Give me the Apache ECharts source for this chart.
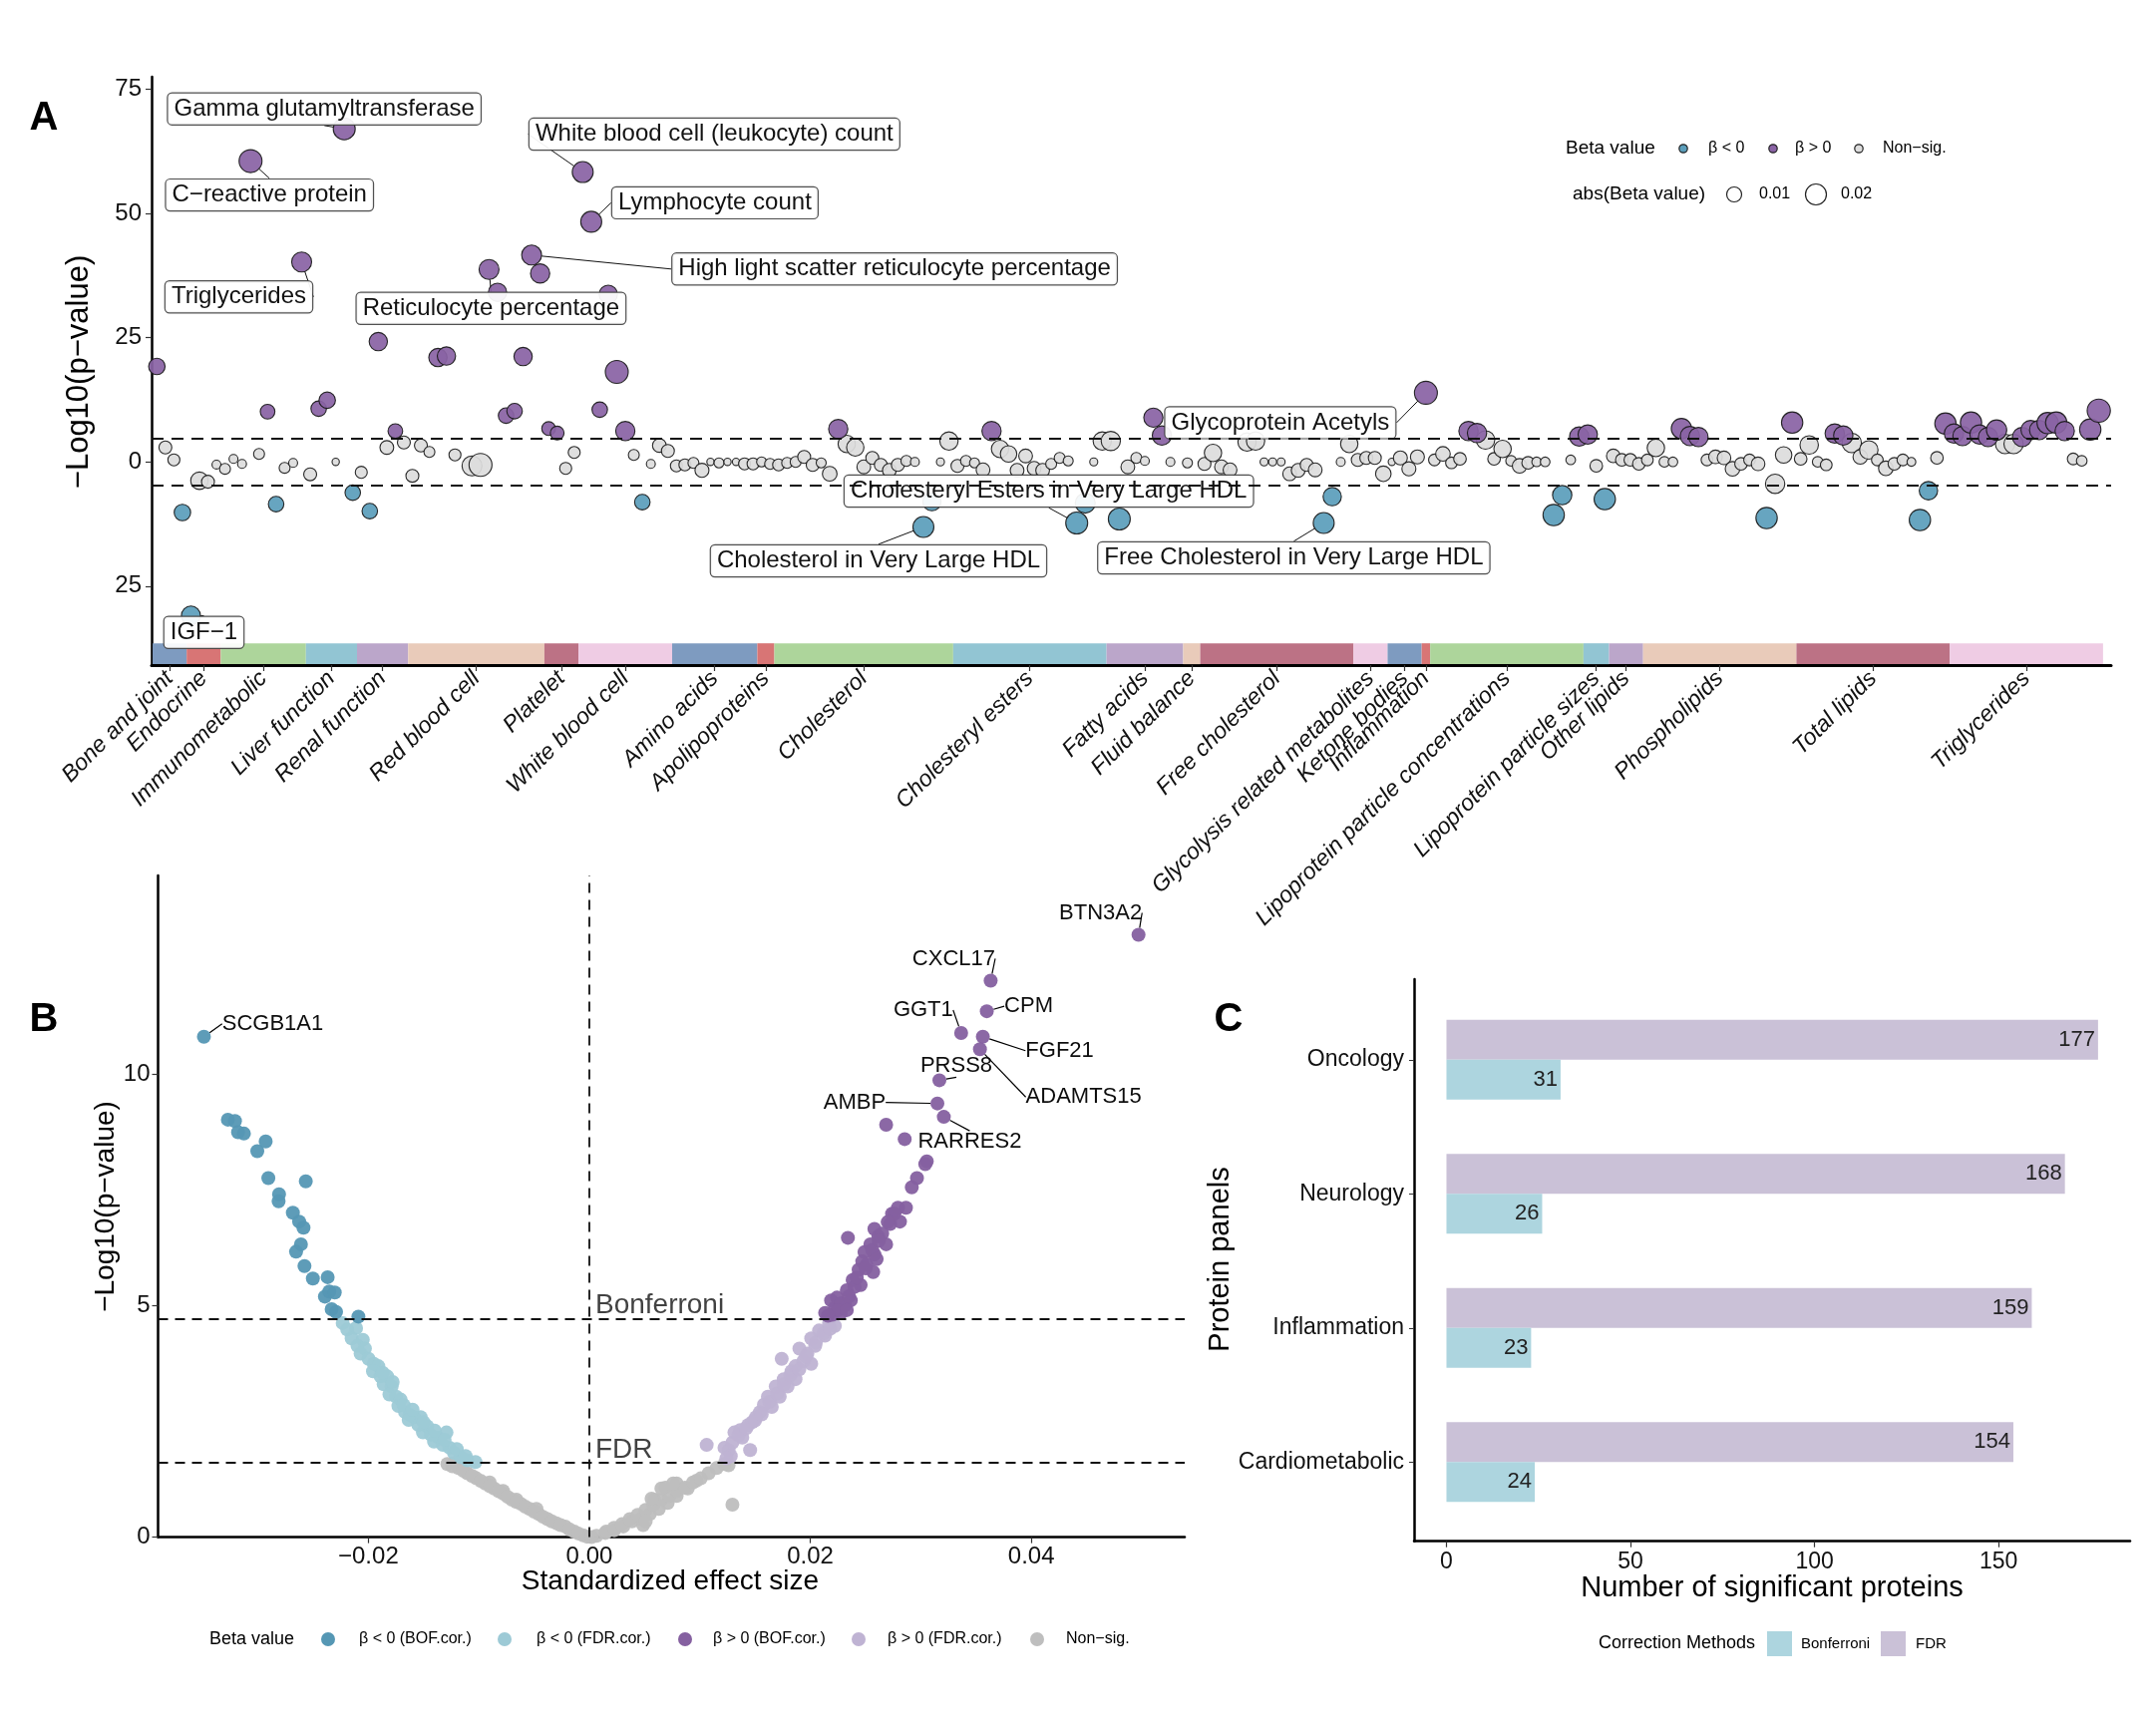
<!DOCTYPE html>
<html><head><meta charset="utf-8">
<script src="https://cdn.jsdelivr.net/npm/echarts@6/dist/echarts.min.js"></script>
<style>html,body{margin:0;padding:0;background:#fff}#c{width:2162px;height:1731px}</style>
</head><body><div id="c"></div>
<script>
// ================= DATA =================
// ---- Panel A: phenome-wide associations ----
const catNames = ['Bone and joint','Endocrine','Immunometabolic','Liver function','Renal function','Red blood cell','Platelet','White blood cell','Amino acids','Apolipoproteins','Cholesterol','Cholesteryl esters','Fatty acids','Fluid balance','Free cholesterol','Glycolysis related metabolites','Ketone bodies','Inflammation','Lipoprotein particle concentrations','Lipoprotein particle sizes','Other lipids','Phospholipids','Total lipids','Triglycerides'];
const catSizes = [4,4,10,6,6,16,4,11,10,2,21,18,9,2,18,4,4,1,18,3,4,18,18,18];
const traitPos = [1,2,3,4,5,6,7,8,9,10,11,12,13,14,15,16,17,18,19,20,21,22,23,24,25,26,27,28,29,30,31,32,33,34,35,36,
38,39,40,41,42,43,44,45,46,47,48,49,50,51,52,53,54,55,56,57,58,59,60,61,62,63,64,65,66,67,68,69,70,71,72,73,74,75,76,77,
78,79,80,81,82,83,84,85,86,87,88,89,90,91,92,93,94,95,96,97,98,99,100,101,102,103,104,105,106,107,108,109,110,111,112,113,114,115,116,117,
118,119,120,122,124,125,126,127,
129,130,131,132,133,134,135,136,137,138,139,140,141,142,143,144,145,146,147,148,149,150,151,152,153,154,155,156,157,158,
159,160,161,162,163,164,165,166,167,168,169,170,171,172,173,174,175,176,177,178,179,180,181,182,183,184,185,186,187,188,
189,190,191,192,193,194,195,196,197,198,199,200,201,202,203,204,205,206,207,208,209,210,211,212,213,214,215,216,217,218,
219,220,221,222,223,224,225,226,227,228,229];
const traitLogP = [19.2,2.9,0.4,-10.2,-30.9,-3.8,-4.0,-0.55,-1.4,0.6, -0.4,60.5,1.6,10.1,-8.5,-1.2,-0.2,40.2,-2.5,10.7,
12.4,0,67.0,-6.2,-2.1,-9.9,24.2,2.9,6.2,3.9, -2.8,3.3,2.0,21.0,21.3,1.4,
-0.8,-0.6,38.7,34.1,9.3,10.2,21.2,41.6,37.9,6.7, 5.8,-1.3,1.9,58.3,48.3,10.5,33.7,18.1,6.2,1.4,
-8.1,-0.4,3.3,2.2,-0.8,-0.6,-0.2,-1.7,0,-0.2, 0,0,-0.4,-0.4,0,-0.4,-0.6,-0.2,0,1.0,
-0.6,-0.2,-2.4,6.6,3.6,2.9,-1.0,0.8,-0.6,-1.7, -0.6,0.2,0,-13.1,-8.0,0,4.2,-0.8,0.2,-0.2,
-1.6,6.2,2.6,1.6,-1.7,1.2,-1.3,-1.7,-0.4,0.8, 0.2,-12.3,-8.3,0,4.2,4.2,-11.5,-1.0,0.8,0.2,
8.9,5.3,0,-0.2,-0.4,1.8,-1.0,-1.6,
4.0,4.2,0,0,0,-2.4,-1.7,-0.6,-1.6,-12.3, -7.0,0,3.6,0.4,0.8,0.8,-2.4,0,0.8,-1.4,
1.0,13.9,0.4,1.6,-0.2,0.6,6.2,5.8,4.4,0.6, 2.6,0.2,-0.8,-0.2,0,0,-10.7,-6.7,0.4,5.1,
5.5,-0.8,-7.5,1.2,0.4,0.4,-0.4,0.4,2.8,0, 0,6.7,5.2,5.0,0.4,1.0,0.8,-1.4,-0.4,0.4,
-0.4,-11.3,-4.4,1.4,7.9,0.6,3.4,0,-0.6,5.7, 5.3,3.8,1.0,2.4,0.4,-1.3,-0.4,0.4,0,-11.7,
-5.8,0.8,7.7,5.7,5.2,7.9,5.5,5.0,6.4,3.6, 3.6,5.0,6.4,6.4,7.8,7.9,6.2,0.6,0.2,6.5,10.3];
const traitBeta = [.0122,.0073,.0063,.0122,.0163,.0137,.0074,.0034,.0052,.0034, .0034,.0241,.0052,.0096,.0108,.0052,.0034,.0181,.0074,.0108,
.0122,.0022,.0220,.0108,.0063,.0108,.0152,.0084,.0096,.0074, .0074,.0074,.0052,.0152,.0152,.0063,
.0181,.0241,.0181,.0152,.0108,.0108,.0152,.0181,.0168,.0084, .0084,.0063,.0063,.0200,.0200,.0108,.0152,.0241,.0168,.0052,
.0108,.0034,.0084,.0074,.0063,.0063,.0052,.0087,.0022,.0043, .0022,.0022,.0063,.0063,.0043,.0052,.0063,.0052,.0052,.0074,
.0074,.0043,.0096,.0168,.0136,.0136,.0084,.0074,.0074,.0084, .0074,.0052,.0034,.0200,.0152,.0027,.0152,.0074,.0052,.0043,
.0084,.0168,.0136,.0122,.0084,.0084,.0084,.0084,.0052,.0052, .0043,.0220,.0181,.0027,.0152,.0168,.0220,.0084,.0052,.0034,
.0168,.0168,.0034,.0043,.0074,.0136,.0084,.0084,
.0152,.0152,.0027,.0027,.0027,.0084,.0084,.0074,.0084,.0200, .0152,.0034,.0136,.0074,.0074,.0074,.0108,.0022,.0087,.0087,
.0087,.0241,.0060,.0095,.0060,.0070,.0170,.0170,.0154,.0070, .0137,.0049,.0095,.0070,.0040,.0040,.0208,.0170,.0040,.0170,
.0170,.0070,.0208,.0082,.0070,.0070,.0070,.0060,.0137,.0049, .0040,.0188,.0170,.0170,.0060,.0082,.0082,.0095,.0070,.0060,
.0082,.0208,.0170,.0122,.0208,.0070,.0154,.0049,.0060,.0170, .0170,.0170,.0095,.0154,.0060,.0095,.0070,.0060,.0033,.0208,
.0154,.0070,.0208,.0170,.0170,.0208,.0170,.0170,.0188,.0170, .0170,.0170,.0170,.0170,.0208,.0208,.0170,.0060,.0049,.0208,.0247];
const labelTraits = [23,12,18,40,51,52,45,5,91,109,138,150];
const labelTexts = ['Gamma glutamyltransferase','C\u2212reactive protein','Triglycerides','Reticulocyte percentage','White blood cell (leukocyte) count','Lymphocyte count','High light scatter reticulocyte percentage','IGF\u22121','Cholesterol in Very Large HDL','Cholesteryl Esters in Very Large HDL','Free Cholesterol in Very Large HDL','Glycoprotein Acetyls'];
const thrA = 4.7;
const yTicksA = [-25,0,25,50,75];

// ---- Panel B: volcano ----
const namedProtein = ['SCGB1A1','BTN3A2','CXCL17','CPM','GGT1','FGF21','ADAMTS15','PRSS8','AMBP','RARRES2'];
const namedEffect = [-0.03488,0.04970,0.03632,0.03597,0.03365,0.03561,0.03535,0.03168,0.03150,0.03208];
const namedLogP = [10.80,13.00,12.01,11.35,10.88,10.80,10.53,9.86,9.36,9.07];
const negBOF = [[-0.03271,9.01],[-0.03207,8.98],[-0.03179,8.74],[-0.03126,8.71],[-0.03005,8.33],[-0.02929,8.54],[-0.02905,7.75],[-0.02808,7.40],[-0.02812,7.25],[-0.02566,7.68],[-0.02683,7.00],[-0.02626,6.81],[-0.02587,6.68],[-0.02610,6.32],[-0.02654,6.16],[-0.02578,5.85],[-0.02502,5.58],[-0.02368,5.61],[-0.02393,5.19],[-0.02353,5.30],[-0.02304,5.28],[-0.02332,4.92],[-0.02292,4.86],[-0.02090,4.76]];
const negFDR = [[-0.02232,4.62],[-0.02191,4.48],[-0.02111,4.51],[-0.02151,4.29],[-0.02050,4.26],[-0.02098,4.13],[-0.02031,4.07],[-0.02070,3.96],[-0.01998,3.85],[-0.01950,3.74],[-0.01910,3.69],[-0.01958,3.58],[-0.01889,3.47],[-0.01829,3.47],[-0.01861,3.30],[-0.01789,3.25],[-0.01809,3.08],[-0.01748,3.03],[-0.01708,2.97],[-0.01728,2.83],[-0.01668,2.70],[-0.01627,2.64],[-0.01587,2.59],[-0.01527,2.59],[-0.01635,2.53],[-0.01547,2.42],[-0.01467,2.39],[-0.01506,2.26],[-0.01434,2.21],[-0.01366,2.15],[-0.01293,2.26],[-0.01406,2.06],[-0.01325,1.99],[-0.01265,1.93],[-0.01225,1.82],[-0.01164,1.73],[-0.01104,1.66],[-0.01031,1.62],[-0.0187,3.55],[-0.0178,3.35],[-0.0168,2.85],[-0.0160,2.75],[-0.0150,2.48],[-0.0140,2.30],[-0.0131,2.10],[-0.0120,1.90],[-0.0112,1.75]];
const posBOF = [[0.02686,8.90],[0.02854,8.59],[0.03054,8.11],[0.03040,8.05],[0.02965,7.75],[0.02918,7.55],[0.02865,7.11],[0.02793,7.11],[0.02740,6.98],[0.02811,6.81],[0.02722,6.76],[0.02340,6.46],[0.02580,6.65],[0.02543,6.32],[0.02686,6.32],[0.02580,6.10],[0.02508,5.88],[0.02569,5.72],[0.02437,5.77],[0.02383,5.55],[0.02455,5.44],[0.02330,5.33],[0.02366,5.11],[0.02241,5.17],[0.02188,5.11],[0.02134,4.84],[0.02276,4.84],[0.02223,4.95],[0.02312,5.00],[0.02490,6.15],[0.02615,6.49],[0.02760,6.98],[0.02650,6.55],[0.02470,5.95],[0.02400,5.40],[0.02280,5.05],[0.02200,4.80],[0.02250,4.90],[0.02350,5.20],[0.02420,5.60],[0.02500,5.80],[0.02560,6.20],[0.02620,6.40],[0.02700,6.80],[0.02600,6.00],[0.02330,4.90],[0.02160,4.78]];
const posFDR = [[0.01260,1.88],[0.01223,1.93],[0.01295,2.04],[0.01313,2.26],[0.01384,2.15],[0.01366,2.31],[0.01437,2.42],[0.01473,2.48],[0.01455,1.88],[0.01062,1.99],[0.01509,2.59],[0.01544,2.70],[0.01580,2.86],[0.01651,2.81],[0.01616,3.03],[0.01723,3.03],[0.01687,3.25],[0.01794,3.25],[0.01759,3.41],[0.01866,3.41],[0.01830,3.58],[0.01866,3.69],[0.02008,3.74],[0.01937,3.80],[0.01741,3.85],[0.01973,3.96],[0.01901,4.07],[0.02044,4.13],[0.02133,4.35],[0.02008,4.29],[0.02079,4.46],[0.02169,4.62],[0.02222,4.56],[0.0135,2.20],[0.0142,2.35],[0.0150,2.52],[0.0156,2.65],[0.0163,2.92],[0.0170,3.10],[0.0176,3.30],[0.0182,3.50],[0.0190,3.62],[0.0196,3.90],[0.0205,4.20],[0.0212,4.40],[0.0218,4.50],[0.0128,1.75],[0.0124,1.70]];
const nonSig = [[-0.01285,1.58],[-0.01225,1.60],[-0.01184,1.49],[-0.01104,1.38],[-0.01023,1.27],[-0.00942,1.16],[-0.00862,1.05],[-0.00781,0.94],[-0.00700,0.81],[-0.00620,0.72],[-0.00540,0.61],[-0.00459,0.50],[-0.00378,0.39],[-0.00298,0.30],[-0.00218,0.23],[-0.00136,0.12],[-0.00056,0.04],[-0.00781,1.00],[-0.00479,0.61],[-0.00902,1.18],[-0.00660,0.81],
[-0.0124,1.53],[-0.0114,1.43],[-0.0106,1.32],[-0.0098,1.21],[-0.0090,1.10],[-0.0082,0.99],[-0.0074,0.87],[-0.0066,0.76],[-0.0058,0.66],[-0.0050,0.55],[-0.0042,0.44],[-0.0034,0.34],[-0.0026,0.26],[-0.0018,0.17],[-0.0010,0.08],[-0.0002,0.01],
[0.00065,0.03],[0.00145,0.09],[0.00226,0.15],[0.00307,0.23],[0.00387,0.34],[0.00487,0.26],[0.00468,0.39],[0.00548,0.50],[0.00588,0.81],[0.00689,1.07],[0.0079,1.16],[0.00629,0.61],[0.00709,0.74],[0.0079,0.89],[0.00891,1.05],[0.00971,1.22],
[0.00153,0.12],[0.00224,0.20],[0.00295,0.28],[0.00367,0.39],[0.00438,0.48],[0.0051,0.59],[0.00581,0.70],[0.00652,0.81],[0.00724,0.89],[0.00795,1.00],[0.00866,1.07],[0.00938,1.18],[0.01009,1.27],[0.01080,1.38],[0.01152,1.49],[0.01223,1.58],[0.01295,0.70],[0.0051,0.34],[0.00563,0.83],[0.00652,1.05],[0.00759,1.16],[0.0126,1.55],[0.0002,0.0]];
const thrBonf = 4.71, thrFDR = 1.605;
const xTicksB = [-0.02,0,0.02,0.04];
const yTicksB = [0,5,10];

// ---- Panel C: counts ----
const panels = ['Oncology','Neurology','Inflammation','Cardiometabolic'];
const fdrCounts = [177,168,159,154];
const bonfCounts = [31,26,23,24];
const xTicksC = [0,50,100,150];

// ================= STYLE / LAYOUT =================
const FF = "'Liberation Sans', Arial, Helvetica, sans-serif";
const catColors = ['#7E9BC0','#D87575','#ADD59B','#92C5D3','#BBA6CA','#E9CBBA','#BC7285','#EFCCE4'];
const colA = {neg:'#5B9EBB', pos:'#8A63A5', ns:'#DDDDDD'};
const colB = {negBOF:'#5597B4', negFDR:'#9DCAD6', posBOF:'#8560A0', posFDR:'#BFB3D3', ns:'#BEBEBE'};
const colC = {fdr:'#CAC1D7', bonf:'#ADD5DF'};
const labelOffsetA = {23:[-20,-20],12:[19,34],18:[-63,35],40:[2,39],51:[132,-38],52:[124,-19],45:[364,14],5:[13,17],91:[-45,34],109:[-28,-32],138:[-30,35],150:[-146,30]};
const labelOffsetB = {SCGB1A1:[69,-13],BTN3A2:[-38,-22],CXCL17:[-37,-22],CPM:[42,-5],GGT1:[-38,-23],FGF21:[77,14],PRSS8:[17,-14],ADAMTS15:[104,48],AMBP:[-83,-1],RARRES2:[26,25]};
const catBarY = [-40.7,-36.5];
const rangeXC = [-8.8,185.7];

// ================= BUILD =================
const chart = echarts.init(document.getElementById('c'), null, {renderer:'canvas', width:2162, height:1731});

const catBounds = []; let cum = 0;
catSizes.forEach(s => { catBounds.push([cum + 0.5, cum + s + 0.5]); cum += s; });
const catMids = catBounds.map(b => (b[0] + b[1]) / 2);

const A = {neg:[], pos:[], ns:[]};
traitPos.forEach((t, i) => {
  const lp = traitLogP[i], b = traitBeta[i];
  const li = labelTraits.indexOf(t);
  const item = {value:[t, lp, b], name: li >= 0 ? labelTexts[li] : ''};
  if (li >= 0) item.label = {show:true};
  if (lp > thrA) A.pos.push(item); else if (lp < -thrA) A.neg.push(item); else A.ns.push(item);
});

function centerOf(p){ return [p.rect.x + p.rect.width/2, p.rect.y + p.rect.height/2]; }
function layoutA(arr){ return function(p){ const it = arr[p.dataIndex]; const off = it && labelOffsetA[it.value[0]]; if (!off) return {}; const c = centerOf(p); return {x:c[0]+off[0], y:c[1]+off[1], align:'center', verticalAlign:'middle'}; }; }
function layoutB(arr){ return function(p){ const it = arr[p.dataIndex]; const off = it && labelOffsetB[it.name]; if (!off) return {}; const c = centerOf(p); return {x:c[0]+off[0], y:c[1]+off[1], align:'center', verticalAlign:'middle'}; }; }

const labelStyleA = {show:false, formatter:'{b}', fontSize:24, fontFamily:FF, color:'#000', backgroundColor:'#fff', borderColor:'#444', borderWidth:1.2, borderRadius:4, padding:[4,6,3,6]};
function seriesA(name, arr, color, extra){
  return Object.assign({type:'scatter', name, xAxisIndex:0, yAxisIndex:0, data:arr,
    symbolSize: v => 0.5 + 145*Math.sqrt(v[2]),
    itemStyle:{color, borderColor:'#1a1a1a', borderWidth:1.1, opacity:0.93},
    label:labelStyleA, labelLine:{show:true, lineStyle:{color:'#111', width:1}},
    labelLayout: layoutA(arr), emphasis:{disabled:true}}, extra || {});
}

function itemsB(pts){ return pts.map(p => ({value:p, name:''})); }
const bNegBOF = itemsB(negBOF), bPosBOF = itemsB(posBOF);
namedProtein.forEach((n, i) => {
  const it = {value:[namedEffect[i], namedLogP[i]], name:n, label:{show:true}};
  (namedEffect[i] < 0 ? bNegBOF : bPosBOF).push(it);
});
const labelStyleB = {show:false, formatter:'{b}', fontSize:22, fontFamily:FF, color:'#000'};
function seriesB(name, arr, color){
  return {type:'scatter', name, xAxisIndex:1, yAxisIndex:1, data:arr, symbolSize:14,
    itemStyle:{color, opacity:0.95}, label:labelStyleB,
    labelLine:{show:true, lineStyle:{color:'#000', width:1.2}}, labelLayout: layoutB(arr), emphasis:{disabled:true}};
}

const axisLineBlack = w => ({show:true, onZero:false, lineStyle:{color:'#000', width:w}});
const tickStyle = {show:true, length:6, lineStyle:{color:'#333', width:1.2}};

function T(x, y, text, size, o){
  o = o || {};
  return {type:'text', x, y, rotation:o.rotation || 0, silent:true,
    style:{text, fontSize:size, fontFamily:FF, fontWeight:o.fontWeight || 'normal', fill:'#000', align:o.align || 'center', verticalAlign:'middle'}};
}
function C(cx, cy, r, fill, stroke){ return {type:'circle', silent:true, shape:{cx, cy, r}, style:{fill, stroke:stroke || null, lineWidth:stroke ? 1.2 : 0}}; }
function R(x, y, w, h, fill){ return {type:'rect', silent:true, shape:{x, y, width:w, height:h}, style:{fill}}; }

const graphics = [
  T(44,119,'A',40,{fontWeight:'bold'}), T(44,1023,'B',40,{fontWeight:'bold'}), T(1232,1023,'C',40,{fontWeight:'bold'}),
  T(79,373,'\u2212Log10(p\u2212value)',31,{rotation:Math.PI/2}),
  T(106,1210,'\u2212Log10(p\u2212value)',28,{rotation:Math.PI/2}),
  T(672,1586,'Standardized effect size',28),
  T(1224,1263,'Protein panels',29,{rotation:Math.PI/2}),
  T(1777,1593,'Number of significant proteins',29),
  T(1570,149,'Beta value',19,{align:'left'}),
  C(1688,149,4.2,colA.neg,'#222'), T(1713,149,'\u03b2 < 0',16,{align:'left'}),
  C(1778,149,4.2,colA.pos,'#222'), T(1800,149,'\u03b2 > 0',16,{align:'left'}),
  C(1864,149,4.2,colA.ns,'#222'), T(1888,149,'Non\u2212sig.',16,{align:'left'}),
  T(1577,195,'abs(Beta value)',19,{align:'left'}),
  C(1739,195,7.5,'#fff','#222'), T(1764,195,'0.01',16,{align:'left'}),
  C(1821,195,10.5,'#fff','#222'), T(1846,195,'0.02',16,{align:'left'}),
  T(210,1644,'Beta value',18,{align:'left'}),
  C(329,1644,7,colB.negBOF), T(360,1644,'\u03b2 < 0 (BOF.cor.)',16,{align:'left'}),
  C(506,1644,7,colB.negFDR), T(538,1644,'\u03b2 < 0 (FDR.cor.)',16,{align:'left'}),
  C(687,1644,7,colB.posBOF), T(715,1644,'\u03b2 > 0 (BOF.cor.)',16,{align:'left'}),
  C(861,1644,7,colB.posFDR), T(890,1644,'\u03b2 > 0 (FDR.cor.)',16,{align:'left'}),
  C(1040,1644,7,colB.ns), T(1069,1644,'Non\u2212sig.',16,{align:'left'}),
  T(1603,1648.5,'Correction Methods',18,{align:'left'}),
  R(1772,1636,25,25,colC.bonf), T(1806,1648.5,'Bonferroni',15,{align:'left'}),
  R(1886,1636,25,25,colC.fdr), T(1921,1648.5,'FDR',15,{align:'left'})
];

const hiddenAxis = {axisLine:{show:false}, axisTick:{show:false}, axisLabel:{show:false}, splitLine:{show:false}};

const option = {
  animation:false, backgroundColor:'#fff',
  textStyle:{fontFamily:FF},
  grid:[
    {left:152, right:45, top:77, bottom:1064, outerBoundsMode:'none'},
    {left:158.5, right:974, top:878, bottom:189.4, outerBoundsMode:'none'},
    {left:1418, right:26, top:995.5, bottom:197.5, outerBoundsMode:'none'},
    {left:1418, right:26, top:982, bottom:185.3, outerBoundsMode:'none'}
  ],
  xAxis:[
    {gridIndex:0, type:'value', min:0.38, max:230.45, axisLine:axisLineBlack(3), splitLine:{show:false},
      axisTick:Object.assign({customValues:catMids}, tickStyle),
      axisLabel:{customValues:catMids, rotate:45, margin:10, fontSize:23, fontStyle:'italic', color:'#111', fontFamily:FF,
        formatter: v => { const i = catMids.findIndex(m => Math.abs(m - v) < 1e-6); return i >= 0 ? catNames[i] : ''; }}},
    {gridIndex:1, type:'value', min:-0.03903, max:0.05388, axisLine:axisLineBlack(2.5), splitLine:{show:false},
      axisTick:Object.assign({customValues:xTicksB}, tickStyle),
      axisLabel:{customValues:xTicksB, margin:8, fontSize:24, color:'#111', fontFamily:FF,
        formatter: v => (v < 0 ? '\u2212' : '') + Math.abs(v).toFixed(2)}},
    Object.assign({gridIndex:2, type:'value', min:rangeXC[0], max:rangeXC[1]}, hiddenAxis),
    {gridIndex:3, type:'value', min:rangeXC[0], max:rangeXC[1], axisLine:axisLineBlack(2.5), splitLine:{show:false},
      axisTick:Object.assign({customValues:xTicksC}, tickStyle),
      axisLabel:{customValues:xTicksC, margin:9, fontSize:23, color:'#111', fontFamily:FF}}
  ],
  yAxis:[
    {gridIndex:0, type:'value', min:-40.88, max:77.47, axisLine:axisLineBlack(2.5), splitLine:{show:false},
      axisTick:Object.assign({customValues:yTicksA}, tickStyle),
      axisLabel:{customValues:yTicksA, margin:10, fontSize:24, color:'#111', fontFamily:FF, formatter: v => String(Math.abs(v))}},
    {gridIndex:1, type:'value', min:0, max:14.28, axisLine:axisLineBlack(2.5), splitLine:{show:false},
      axisTick:Object.assign({customValues:yTicksB}, tickStyle),
      axisLabel:{customValues:yTicksB, margin:8, fontSize:24, color:'#111', fontFamily:FF}},
    {gridIndex:2, type:'category', data:panels, inverse:true, axisLine:{show:false, onZero:false},
      axisTick:{show:true, alignWithLabel:true, length:5, lineStyle:{color:'#333'}},
      axisLabel:{margin:10, fontSize:23, color:'#111', fontFamily:FF}},
    {gridIndex:3, type:'value', min:0, max:1, axisLine:axisLineBlack(2.5), axisTick:{show:false}, axisLabel:{show:false}, splitLine:{show:false}}
  ],
  series:[
    seriesA('Non\u2212sig.', A.ns, colA.ns, {
      markLine:{silent:true, symbol:'none', label:{show:false}, lineStyle:{color:'#111', type:[12,8], width:2.2},
        data:[{yAxis:thrA},{yAxis:-thrA}]},
      markArea:{silent:true, data: catBounds.map((b, i) => [
        {xAxis:b[0], yAxis:catBarY[0], itemStyle:{color:catColors[i % 8], opacity:1, borderWidth:0}},
        {xAxis:b[1], yAxis:catBarY[1]}])}
    }),
    seriesA('\u03b2 < 0', A.neg, colA.neg),
    seriesA('\u03b2 > 0', A.pos, colA.pos),
    Object.assign(seriesB('Non\u2212sig. (B)', itemsB(nonSig), colB.ns), {
      markLine:{silent:true, symbol:'none', label:{show:false}, lineStyle:{color:'#111', type:[10,7], width:1.8},
        data:[{yAxis:thrBonf},{yAxis:thrFDR},{xAxis:0}]}
    }),
    seriesB('\u03b2 < 0 (FDR.cor.)', itemsB(negFDR), colB.negFDR),
    seriesB('\u03b2 > 0 (FDR.cor.)', itemsB(posFDR), colB.posFDR),
    seriesB('\u03b2 < 0 (BOF.cor.)', bNegBOF, colB.negBOF),
    seriesB('\u03b2 > 0 (BOF.cor.)', bPosBOF, colB.posBOF),
    {type:'scatter', name:'thresholds', xAxisIndex:1, yAxisIndex:1, silent:true, symbolSize:0.01,
      itemStyle:{color:'rgba(0,0,0,0)'},
      data:[{value:[0, thrBonf], name:'Bonferroni'},{value:[0, thrFDR], name:'FDR'}],
      label:{show:true, position:'right', distance:6, offset:[0,-13], formatter:'{b}', fontSize:28, color:'#111', fontFamily:FF}},
    {type:'bar', name:'FDR', xAxisIndex:2, yAxisIndex:2, data:fdrCounts, barWidth:40, barGap:'0%',
      itemStyle:{color:colC.fdr}, label:{show:true, position:'insideRight', distance:3, fontSize:22, color:'#222', fontFamily:FF}},
    {type:'bar', name:'Bonferroni', xAxisIndex:2, yAxisIndex:2, data:bonfCounts, barWidth:40, barGap:'0%',
      itemStyle:{color:colC.bonf}, label:{show:true, position:'insideRight', distance:3, fontSize:22, color:'#222', fontFamily:FF}}
  ],
  graphic: graphics
};
chart.setOption(option);
</script></body></html>
